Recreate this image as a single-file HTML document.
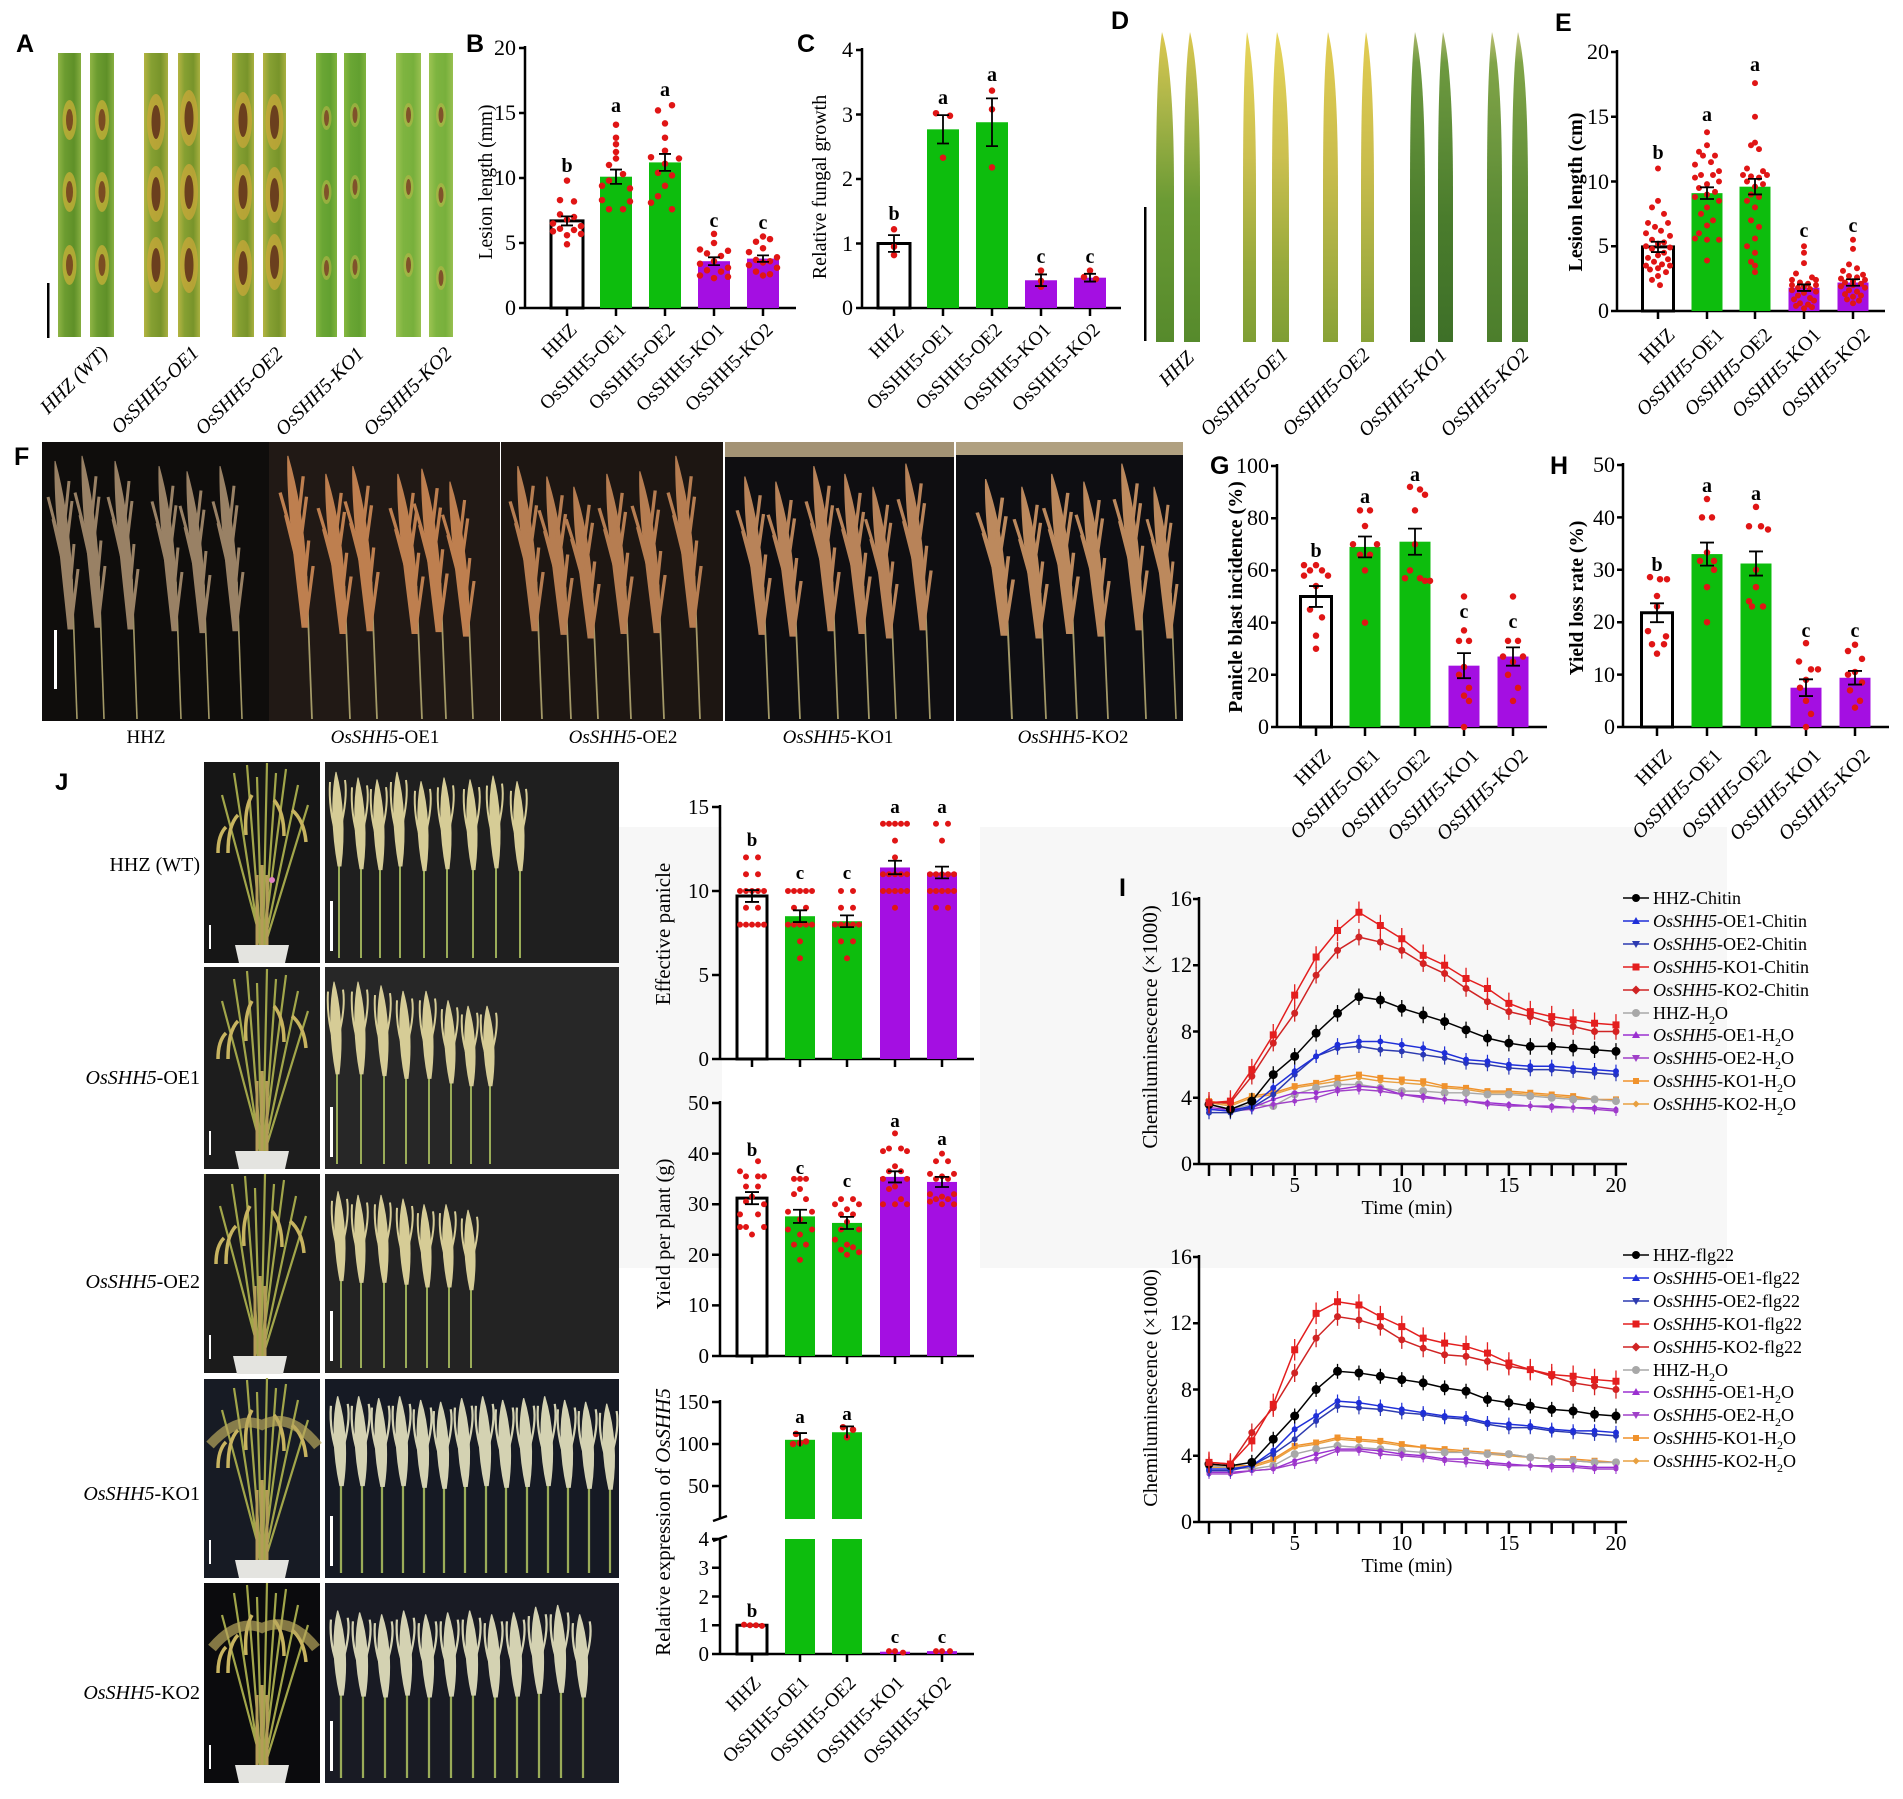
<!DOCTYPE html>
<html><head><meta charset="utf-8"><style>
html,body{margin:0;padding:0;background:#fff;}
svg{display:block;}
text{font-family:"Liberation Serif","DejaVu Serif",serif;fill:#000;}
.pl{font-family:"Liberation Sans",Arial,sans-serif;font-weight:bold;font-size:25px;}
.tk{font-size:22px;text-anchor:end;}
.xl{font-size:19.5px;text-anchor:end;}
.xa{font-size:20px;text-anchor:end;font-style:italic;}
.lt{font-size:20px;font-weight:bold;text-anchor:middle;}
.yt{font-size:19.5px;text-anchor:middle;}
.ytb{font-size:20px;font-weight:bold;text-anchor:middle;}
.it{font-style:italic;}
.sc *{vector-effect:non-scaling-stroke;}
.ax{fill:none;stroke:#000;stroke-width:2.5;}
.dt{fill:none;stroke:#e01515;stroke-width:6.5;stroke-linecap:round;}
.eb{fill:none;stroke:#000;stroke-width:1.8;}
.g{fill:#0dbd0d;}
.p{fill:#a40fe2;}
.w{fill:#fff;stroke:#000;stroke-width:3;}
.lg{font-size:18px;}
.fl{font-size:19px;text-anchor:middle;}
.jl{font-size:20px;text-anchor:end;}
</style></head><body>
<svg width="1903" height="1799" viewBox="0 0 1903 1799" xmlns="http://www.w3.org/2000/svg">
<defs>
<linearGradient id="gA1" x1="0" x2="1" y1="0" y2="0"><stop offset="0" stop-color="#8fb445"/><stop offset=".3" stop-color="#6c9c30"/><stop offset=".7" stop-color="#5f9028"/><stop offset="1" stop-color="#86ae40"/></linearGradient>
<linearGradient id="gA2" x1="0" x2="1" y1="0" y2="0"><stop offset="0" stop-color="#b4b442"/><stop offset=".3" stop-color="#86a032"/><stop offset=".7" stop-color="#78942a"/><stop offset="1" stop-color="#a8b040"/></linearGradient>
<linearGradient id="gA3" x1="0" x2="1" y1="0" y2="0"><stop offset="0" stop-color="#86b840"/><stop offset=".3" stop-color="#6aa634"/><stop offset=".7" stop-color="#62a030"/><stop offset="1" stop-color="#80b43e"/></linearGradient>
<linearGradient id="gA4" x1="0" x2="1" y1="0" y2="0"><stop offset="0" stop-color="#9cc452"/><stop offset=".3" stop-color="#7eb440"/><stop offset=".7" stop-color="#78b03c"/><stop offset="1" stop-color="#98c050"/></linearGradient>
<linearGradient id="gD1" x1="0" x2="0" y1="0" y2="1"><stop offset="0" stop-color="#dcc850"/><stop offset=".25" stop-color="#a8b448"/><stop offset=".55" stop-color="#6a9a34"/><stop offset="1" stop-color="#568a2c"/></linearGradient>
<linearGradient id="gD2" x1="0" x2="0" y1="0" y2="1"><stop offset="0" stop-color="#e6d458"/><stop offset=".4" stop-color="#ccc050"/><stop offset=".75" stop-color="#98aa3c"/><stop offset="1" stop-color="#7e9e34"/></linearGradient>
<linearGradient id="gD3" x1="0" x2="0" y1="0" y2="1"><stop offset="0" stop-color="#e2cc52"/><stop offset=".45" stop-color="#c8bc4c"/><stop offset=".8" stop-color="#a0ac40"/><stop offset="1" stop-color="#88a236"/></linearGradient>
<linearGradient id="gD4" x1="0" x2="0" y1="0" y2="1"><stop offset="0" stop-color="#b0b870"/><stop offset=".1" stop-color="#6e9a40"/><stop offset=".6" stop-color="#4a7c2c"/><stop offset="1" stop-color="#3e7028"/></linearGradient>
<linearGradient id="gD5" x1="0" x2="0" y1="0" y2="1"><stop offset="0" stop-color="#c0c078"/><stop offset=".1" stop-color="#80a448"/><stop offset=".6" stop-color="#5a8a34"/><stop offset="1" stop-color="#4c7e2c"/></linearGradient>
<g id="lesH"><ellipse rx="7" ry="20" fill="#c8b038" opacity=".75"/><ellipse rx="3.5" ry="11" fill="#7a4c22"/></g>
<g id="lesO"><ellipse rx="9" ry="28" fill="#caa83a" opacity=".75"/><ellipse rx="4.5" ry="17" fill="#6b3f1e"/></g>
<g id="lesK"><ellipse rx="5" ry="12" fill="#b8b848" opacity=".6"/><ellipse rx="2.5" ry="8" fill="#80522a"/></g>
<g id="pF">
<path d="M0 0L-5 -140" fill="none" stroke="#b8ad74" stroke-width="1.6"/>
<path d="M-4 -90C-3 -150 -9 -210 -22 -258C-23 -210 -15 -150 -9 -90Z"/>
<path d="M-6 -105L-16 -170M-7 -125L-24 -200M-9 -145L-29 -222M-11 -168L-5 -218M-13 -190L-8 -238M-5 -100L1 -150M-8 -120L-3 -175" fill="none" stroke-width="3"/>
</g>
<g id="jp">
<path d="M0 0V-112" fill="none" stroke="#9aac58" stroke-width="2"/>
<path d="M-1 -92C-7 -125 -8 -160 -3 -186C4 -160 6 -125 2 -92Z"/>
<path d="M-2 -120C-8 -140 -10 -160 -9 -176M1 -128C6 -148 8 -165 6 -178" fill="none" stroke-width="2"/>
</g>
<g id="plant">
<path d="M0 0L-40 -150M-2 0L-28 -172M-1 0L-15 -180M0 0L-5 -168M1 0L5 -182M2 0L14 -172M1 0L24 -176M2 0L36 -160M3 0L46 -140" fill="none" stroke="#a2a64a" stroke-width="2.2"/>
<path d="M-5 0V-70M0 0V-80M5 0V-70" fill="none" stroke="#b49c58" stroke-width="3"/>
<path d="M-24 -130q-10 10 -10 38M-10 -150q-8 14 -6 40M12 -145q10 12 10 36M30 -135q12 10 14 32M-36 -118q-8 8 -8 26" fill="none" stroke="#c8b460" stroke-width="3.5"/>
<path d="M-27 0H27L23 18H-23Z" fill="#e4e4e0"/>
</g>
</defs>

<!-- light gray background area -->
<rect x="600" y="827" width="1127" height="441" fill="#f7f7f7"/>
<rect x="722" y="827" width="258" height="441" fill="#fff"/>

<!-- ================= A ================= -->
<text class="pl" x="16" y="52">A</text>
<rect x="58" y="53" width="23" height="284" fill="url(#gA1)"/>
<rect x="90" y="53" width="24" height="284" fill="url(#gA1)"/>
<rect x="144" y="53" width="24" height="284" fill="url(#gA2)"/>
<rect x="178" y="53" width="22" height="284" fill="url(#gA2)"/>
<rect x="232" y="53" width="22" height="284" fill="url(#gA2)"/>
<rect x="263" y="53" width="23" height="284" fill="url(#gA2)"/>
<rect x="316" y="53" width="21" height="284" fill="url(#gA3)"/>
<rect x="344" y="53" width="22" height="284" fill="url(#gA3)"/>
<rect x="396" y="53" width="25" height="284" fill="url(#gA4)"/>
<rect x="429" y="53" width="24" height="284" fill="url(#gA4)"/>
<use href="#lesH" x="69.5" y="120"/><use href="#lesH" x="69.5" y="192"/><use href="#lesH" x="69.5" y="265"/>
<use href="#lesH" x="102" y="120"/><use href="#lesH" x="102" y="192"/><use href="#lesH" x="102" y="265"/>
<use href="#lesO" x="156" y="122"/><use href="#lesO" x="156" y="194"/><use href="#lesO" x="156" y="265"/>
<use href="#lesO" x="189" y="118"/><use href="#lesO" x="189" y="192"/><use href="#lesO" x="189" y="265"/>
<use href="#lesO" x="243" y="120"/><use href="#lesO" x="243" y="192"/><use href="#lesO" x="243" y="268"/>
<use href="#lesO" x="274.5" y="122"/><use href="#lesO" x="274.5" y="195"/><use href="#lesO" x="274.5" y="262"/>
<use href="#lesK" x="326.5" y="118"/><use href="#lesK" x="326.5" y="192"/><use href="#lesK" x="326.5" y="268"/>
<use href="#lesK" x="355" y="115"/><use href="#lesK" x="355" y="187"/><use href="#lesK" x="355" y="267"/>
<use href="#lesK" x="408.5" y="115"/><use href="#lesK" x="408.5" y="187"/><use href="#lesK" x="408.5" y="265"/>
<use href="#lesK" x="441" y="115"/><use href="#lesK" x="441" y="195"/><use href="#lesK" x="441" y="278"/>
<rect x="47" y="283" width="2.5" height="55" fill="#000"/>
<text class="xa" transform="translate(109,354) rotate(-45)">HHZ (WT)</text>
<text class="xa" transform="translate(200,354) rotate(-45)">OsSHH5-OE1</text>
<text class="xa" transform="translate(284,355) rotate(-45)">OsSHH5-OE2</text>
<text class="xa" transform="translate(365,355) rotate(-45)">OsSHH5-KO1</text>
<text class="xa" transform="translate(453,355) rotate(-45)">OsSHH5-KO2</text>

<!-- ================= B ================= -->
<text class="pl" x="466" y="52">B</text>
<path class="ax" d="M525 46V308H796M519 308H525M519 243H525M519 178H525M519 113H525M519 48H525M567 308v8M616 308v8M665 308v8M714 308v8M763 308v8"/>
<text class="tk" x="516" y="315">0</text><text class="tk" x="516" y="250">5</text><text class="tk" x="516" y="185">10</text><text class="tk" x="516" y="120">15</text><text class="tk" x="516" y="55">20</text>
<text class="yt" transform="translate(492,182) rotate(-90)">Lesion length (mm)</text>
<g class="sc" transform="translate(0,308) scale(1,-13)">
<rect class="w" x="551" y="0" width="32" height="6.7"/>
<rect class="g" x="600" y="0" width="32" height="10.1"/>
<rect class="g" x="649" y="0" width="32" height="11.2"/>
<rect class="p" x="698" y="0" width="32" height="3.6"/>
<rect class="p" x="747" y="0" width="32" height="3.8"/>
<path class="dt" d="M567 9.8h0M560 8.3h0M574 8.2h0M560 7.2h0M574 7h0M567 6.8h0M553 6.5h0M581 6.3h0M560 6.1h0M574 6h0M553 5.9h0M581 5.7h0M567 5.6h0M567 4.9h0M616 14.1h0M616 13.1h0M616 12.6h0M616 12h0M616 11.5h0M609 11h0M623 10.3h0M609 9.8h0M602 9.4h0M630 9.2h0M602 8.3h0M630 8.2h0M609 7.6h0M623 7.6h0M672 15.6h0M658 15.2h0M665 14.2h0M665 13.1h0M665 12.1h0M651 11.6h0M679 11.5h0M665 11.1h0M658 10.4h0M672 10.2h0M665 9.4h0M658 8.6h0M651 8.1h0M672 7.6h0M714 5.7h0M714 5h0M700 4.5h0M728 4.4h0M707 4.2h0M721 4h0M714 3.6h0M700 3.4h0M728 3.1h0M707 2.9h0M721 2.8h0M700 2.5h0M728 2.4h0M714 2.3h0M763 5.5h0M770 5.3h0M756 5.1h0M763 4.6h0M749 4.3h0M777 3.9h0M756 3.7h0M770 3.6h0M763 3.5h0M749 3.3h0M777 3.1h0M756 2.8h0M770 2.6h0M763 2.5h0"/>
<path class="eb" d="M567 6.35V7.05M561 7.05H573M561 6.35H573M616 9.55V10.65M610 10.65H622M610 9.55H622M665 10.55V11.85M659 11.85H671M659 10.55H671M714 3.3V3.9M708 3.9H720M708 3.3H720M763 3.55V4.05M757 4.05H769M757 3.55H769"/>
</g>
<text class="lt" x="567" y="172">b</text><text class="lt" x="616" y="112">a</text><text class="lt" x="665" y="96">a</text><text class="lt" x="714" y="227">c</text><text class="lt" x="763" y="229">c</text>
<text class="xl" transform="translate(578,331) rotate(-45)">HHZ</text>
<text class="xl" transform="translate(627,331) rotate(-45)">OsSHH5-OE1</text>
<text class="xl" transform="translate(676,331) rotate(-45)">OsSHH5-OE2</text>
<text class="xl" transform="translate(725,331) rotate(-45)">OsSHH5-KO1</text>
<text class="xl" transform="translate(774,331) rotate(-45)">OsSHH5-KO2</text>

<!-- ================= C ================= -->
<text class="pl" x="797" y="52">C</text>
<path class="ax" d="M862 48V308H1121M856 308H862M856 243.5H862M856 179H862M856 114.5H862M856 50H862M894 308v8M943 308v8M992 308v8M1041 308v8M1090 308v8"/>
<text class="tk" x="853" y="315">0</text><text class="tk" x="853" y="251">1</text><text class="tk" x="853" y="186">2</text><text class="tk" x="853" y="122">3</text><text class="tk" x="853" y="57">4</text>
<text class="yt" style="font-size:20px" transform="translate(826,187) rotate(-90)">Relative fungal growth</text>
<g class="sc" transform="translate(0,308) scale(1,-64.5)">
<rect class="w" x="878" y="0" width="32" height="1"/>
<rect class="g" x="927" y="0" width="32" height="2.77"/>
<rect class="g" x="976" y="0" width="32" height="2.88"/>
<rect class="p" x="1025" y="0" width="32" height="0.43"/>
<rect class="p" x="1074" y="0" width="32" height="0.47"/>
<path class="dt" d="M894 1.22h0M894 0.95h0M894 0.82h0M936 3.02h0M950 2.98h0M943 2.33h0M992 3.37h0M992 3.08h0M992 2.18h0M1041 0.58h0M1041 0.42h0M1041 0.33h0M1090 0.58h0M1084 0.48h0M1096 0.45h0"/>
<path class="eb" d="M894 0.87V1.13M888 1.13H900M888 0.87H900M943 2.55V2.99M937 2.99H949M937 2.55H949M992 2.51V3.25M986 3.25H998M986 2.51H998M1041 0.34V0.52M1035 0.52H1047M1035 0.34H1047M1090 0.41V0.53M1084 0.53H1096M1084 0.41H1096"/>
</g>
<text class="lt" x="894" y="220">b</text><text class="lt" x="943" y="104">a</text><text class="lt" x="992" y="81">a</text><text class="lt" x="1041" y="263">c</text><text class="lt" x="1090" y="263">c</text>
<text class="xl" transform="translate(905,331) rotate(-45)">HHZ</text>
<text class="xl" transform="translate(954,331) rotate(-45)">OsSHH5-OE1</text>
<text class="xl" transform="translate(1003,331) rotate(-45)">OsSHH5-OE2</text>
<text class="xl" transform="translate(1052,331) rotate(-45)">OsSHH5-KO1</text>
<text class="xl" transform="translate(1101,331) rotate(-45)">OsSHH5-KO2</text>

<!-- ================= D ================= -->
<text class="pl" x="1111" y="29">D</text>
<path d="M1156 342L1156 190Q1156 70 1162 32Q1174 70 1174 190L1174 342Z" fill="url(#gD1)"/>
<path d="M1184 342L1184 190Q1184 70 1190 32Q1200 70 1200 190L1200 342Z" fill="url(#gD1)"/>
<path d="M1243 342L1243 190Q1243 70 1247 32Q1256 70 1256 190L1256 342Z" fill="url(#gD2)"/>
<path d="M1272 342L1272 190Q1272 70 1277 32Q1289 70 1289 190L1289 342Z" fill="url(#gD2)"/>
<path d="M1323 342L1323 190Q1323 70 1328 32Q1338 70 1338 190L1338 342Z" fill="url(#gD3)"/>
<path d="M1361 342L1361 190Q1361 70 1366 32Q1374 70 1374 190L1374 342Z" fill="url(#gD3)"/>
<path d="M1410 342L1410 190Q1410 70 1415 32Q1425 70 1425 190L1425 342Z" fill="url(#gD4)"/>
<path d="M1438 342L1438 190Q1438 70 1443 32Q1453 70 1453 190L1453 342Z" fill="url(#gD4)"/>
<path d="M1487 342L1487 190Q1487 70 1492 32Q1502 70 1502 190L1502 342Z" fill="url(#gD5)"/>
<path d="M1512 342L1512 190Q1512 70 1518 32Q1528 70 1528 190L1528 342Z" fill="url(#gD5)"/>
<rect x="1144" y="207" width="2.5" height="134" fill="#000"/>
<text class="xa" transform="translate(1195,359) rotate(-45)">HHZ</text>
<text class="xa" transform="translate(1289,356) rotate(-45)">OsSHH5-OE1</text>
<text class="xa" transform="translate(1371,356) rotate(-45)">OsSHH5-OE2</text>
<text class="xa" transform="translate(1448,356) rotate(-45)">OsSHH5-KO1</text>
<text class="xa" transform="translate(1530,356) rotate(-45)">OsSHH5-KO2</text>

<!-- ================= E ================= -->
<text class="pl" x="1555" y="31">E</text>
<path class="ax" d="M1617 50V311H1885M1611 311H1617M1611 246.25H1617M1611 181.5H1617M1611 116.75H1617M1611 52H1617M1658 311v8M1707 311v8M1755 311v8M1804 311v8M1853 311v8"/>
<text class="tk" x="1609" y="318">0</text><text class="tk" x="1609" y="253">5</text><text class="tk" x="1609" y="189">10</text><text class="tk" x="1609" y="124">15</text><text class="tk" x="1609" y="59">20</text>
<text class="ytb" transform="translate(1582,192) rotate(-90)">Lesion length (cm)</text>
<g class="sc" transform="translate(0,311) scale(1,-12.95)">
<rect class="w" x="1642.5" y="0" width="31" height="4.95"/>
<rect class="g" x="1691.5" y="0" width="31" height="9.1"/>
<rect class="g" x="1739.5" y="0" width="31" height="9.6"/>
<rect class="p" x="1788.5" y="0" width="31" height="1.8"/>
<rect class="p" x="1837.5" y="0" width="31" height="2.2"/>
<path class="dt" style="stroke-width:6" d="M1658 11h0M1658 8.5h0M1652 8h0M1664 7.5h0M1648 6.8h0M1668 6.8h0M1655 6.5h0M1661 6.2h0M1646 6h0M1670 5.8h0M1652 5.5h0M1664 5.3h0M1658 5.2h0M1646 5h0M1670 4.9h0M1652 4.8h0M1664 4.5h0M1658 4.3h0M1648 4.1h0M1668 4h0M1654 3.8h0M1662 3.6h0M1646 3.5h0M1670 3.5h0M1658 3.3h0M1650 3.2h0M1666 3h0M1658 2.7h0M1652 2.4h0M1660 2h0M1707 13.8h0M1707 12.8h0M1699 12.3h0M1715 12h0M1703 12h0M1711 11.5h0M1695 11.3h0M1719 10.8h0M1701 10.5h0M1713 10.5h0M1695 10.3h0M1719 10h0M1707 9.8h0M1699 9.5h0M1715 9.2h0M1707 9h0M1695 8.8h0M1719 8.5h0M1707 8h0M1701 7.5h0M1713 7h0M1707 6.6h0M1699 6h0M1695 5.6h0M1719 5.5h0M1707 5.5h0M1707 3.9h0M1755 17.6h0M1755 15h0M1755 13h0M1751 12.8h0M1759 12.5h0M1747 11h0M1763 10.8h0M1743 10.5h0M1767 10.5h0M1751 10.4h0M1759 10.3h0M1747 10h0M1763 9.8h0M1755 9.6h0M1751 9h0M1759 8.8h0M1747 8.5h0M1755 8h0M1751 7h0M1759 6.5h0M1755 5.6h0M1747 5h0M1755 4.5h0M1751 3.8h0M1755 3.5h0M1755 3h0M1804 5h0M1804 4.5h0M1804 3.7h0M1796 2.9h0M1812 2.6h0M1792 2.4h0M1816 2.4h0M1800 2.2h0M1808 2.1h0M1792 2h0M1816 2h0M1804 1.9h0M1798 1.8h0M1810 1.7h0M1792 1.6h0M1816 1.5h0M1804 1.4h0M1798 1.2h0M1810 1h0M1794 0.9h0M1814 0.8h0M1800 0.6h0M1808 0.5h0M1796 0.4h0M1812 0.3h0M1804 0.2h0M1853 5.5h0M1853 4.8h0M1849 3.6h0M1857 3.3h0M1843 3.1h0M1863 2.8h0M1849 2.7h0M1857 2.6h0M1841 2.5h0M1865 2.4h0M1853 2.3h0M1845 2.2h0M1861 2.1h0M1853 2h0M1841 1.9h0M1865 1.8h0M1849 1.6h0M1857 1.5h0M1845 1.3h0M1861 1.2h0M1853 1.1h0M1847 0.9h0M1859 0.8h0M1853 0.6h0"/>
<path class="eb" d="M1658 4.55V5.35M1651 5.35H1665M1651 4.55H1665M1707 8.65V9.55M1700 9.55H1714M1700 8.65H1714M1755 9V10.2M1748 10.2H1762M1748 9H1762M1804 1.55V2.05M1797 2.05H1811M1797 1.55H1811M1853 1.95V2.45M1846 2.45H1860M1846 1.95H1860"/>
</g>
<text class="lt" x="1658" y="159">b</text><text class="lt" x="1707" y="121">a</text><text class="lt" x="1755" y="71">a</text><text class="lt" x="1804" y="237">c</text><text class="lt" x="1853" y="232">c</text>
<text class="xl" style="font-size:20px" transform="translate(1676,336) rotate(-45)">HHZ</text>
<text class="xl" style="font-size:20px" transform="translate(1725,336) rotate(-45)"><tspan class="it">OsSHH5</tspan>-OE1</text>
<text class="xl" style="font-size:20px" transform="translate(1773,336) rotate(-45)"><tspan class="it">OsSHH5</tspan>-OE2</text>
<text class="xl" style="font-size:20px" transform="translate(1822,336) rotate(-45)"><tspan class="it">OsSHH5</tspan>-KO1</text>
<text class="xl" style="font-size:20px" transform="translate(1871,336) rotate(-45)"><tspan class="it">OsSHH5</tspan>-KO2</text>

<!-- ================= F ================= -->
<text class="pl" x="14" y="465">F</text>
<rect x="42" y="442" width="227" height="279" fill="#0f0d0c"/>
<rect x="269" y="442" width="231" height="279" fill="#211915"/>
<rect x="501" y="442" width="222" height="279" fill="#1d1612"/>
<rect x="725" y="442" width="229" height="279" fill="#0f0e11"/>
<rect x="956" y="442" width="227" height="279" fill="#0e0e12"/>
<rect x="725" y="442" width="229" height="15" fill="#a39274"/>
<rect x="956" y="442" width="227" height="13" fill="#b0a080"/>
<g opacity=".88">
<use href="#pF" fill="#ad9272" stroke="#ad9272" transform="translate(77,719)"/>
<use href="#pF" fill="#ad9272" stroke="#ad9272" transform="translate(104,719) scale(1,1.02)"/>
<use href="#pF" fill="#ad9272" stroke="#ad9272" transform="translate(137,719)"/>
<use href="#pF" fill="#ad9272" stroke="#ad9272" transform="translate(181,719) scale(1,0.98)"/>
<use href="#pF" fill="#ad9272" stroke="#ad9272" transform="translate(209,719) scale(1,0.96)"/>
<use href="#pF" fill="#ad9272" stroke="#ad9272" transform="translate(242,719) scale(1,0.98)"/>
<use href="#pF" fill="#d48e58" stroke="#d48e58" transform="translate(312,719) scale(1.1,1.02)"/>
<use href="#pF" fill="#d48e58" stroke="#d48e58" transform="translate(350,719) scale(1.1,0.95)"/>
<use href="#pF" fill="#d48e58" stroke="#d48e58" transform="translate(377,719) scale(1.1,0.98)"/>
<use href="#pF" fill="#d48e58" stroke="#d48e58" transform="translate(422,719) scale(1.1,0.95)"/>
<use href="#pF" fill="#d48e58" stroke="#d48e58" transform="translate(446,719) scale(1.1,0.97)"/>
<use href="#pF" fill="#d48e58" stroke="#d48e58" transform="translate(473,719) scale(1.05,0.92)"/>
<use href="#pF" fill="#cc8c5a" stroke="#cc8c5a" transform="translate(542,719) scale(1.1,0.98)"/>
<use href="#pF" fill="#cc8c5a" stroke="#cc8c5a" transform="translate(571,719) scale(1.1,0.94)"/>
<use href="#pF" fill="#cc8c5a" stroke="#cc8c5a" transform="translate(598,719) scale(1.1,0.9)"/>
<use href="#pF" fill="#cc8c5a" stroke="#cc8c5a" transform="translate(631,719) scale(1.1,0.95)"/>
<use href="#pF" fill="#cc8c5a" stroke="#cc8c5a" transform="translate(664,719) scale(1.1,0.96)"/>
<use href="#pF" fill="#cc8c5a" stroke="#cc8c5a" transform="translate(700,719) scale(1.1,1.02)"/>
<use href="#pF" fill="#d09464" stroke="#d09464" transform="translate(769,719) scale(1.1,0.94)"/>
<use href="#pF" fill="#d09464" stroke="#d09464" transform="translate(800,719) scale(1.1,0.92)"/>
<use href="#pF" fill="#d09464" stroke="#d09464" transform="translate(838,719) scale(1.1,0.98)"/>
<use href="#pF" fill="#d09464" stroke="#d09464" transform="translate(869,719) scale(1.1,0.95)"/>
<use href="#pF" fill="#d09464" stroke="#d09464" transform="translate(896,719) scale(1.05,0.9)"/>
<use href="#pF" fill="#d09464" stroke="#d09464" transform="translate(930,719) scale(1.1,0.99)"/>
<use href="#pF" fill="#d49a68" stroke="#d49a68" transform="translate(1012,719) scale(1.2,0.93)"/>
<use href="#pF" fill="#d49a68" stroke="#d49a68" transform="translate(1046,719) scale(1.1,0.9)"/>
<use href="#pF" fill="#d49a68" stroke="#d49a68" transform="translate(1077,719) scale(1.15,0.95)"/>
<use href="#pF" fill="#d49a68" stroke="#d49a68" transform="translate(1108,719) scale(1.1,0.92)"/>
<use href="#pF" fill="#d49a68" stroke="#d49a68" transform="translate(1146,719) scale(1.1,0.99)"/>
<use href="#pF" fill="#d49a68" stroke="#d49a68" transform="translate(1176,719) scale(1,0.9)"/>
</g>
<rect x="54" y="630" width="3" height="59" fill="#fff"/>
<text class="fl" x="146" y="743">HHZ</text>
<text class="fl" x="385" y="743"><tspan class="it">OsSHH5</tspan>-OE1</text>
<text class="fl" x="623" y="743"><tspan class="it">OsSHH5</tspan>-OE2</text>
<text class="fl" x="838" y="743"><tspan class="it">OsSHH5</tspan>-KO1</text>
<text class="fl" x="1073" y="743"><tspan class="it">OsSHH5</tspan>-KO2</text>

<!-- ================= G ================= -->
<text class="pl" x="1210" y="474">G</text>
<path class="ax" d="M1277 464V727H1547M1271 727H1277M1271 674.8H1277M1271 622.6H1277M1271 570.4H1277M1271 518.2H1277M1271 466H1277M1316 727v9M1365 727v9M1415 727v9M1464 727v9M1513 727v9"/>
<text class="tk" x="1269" y="734">0</text><text class="tk" x="1269" y="682">20</text><text class="tk" x="1269" y="630">40</text><text class="tk" x="1269" y="577">60</text><text class="tk" x="1269" y="525">80</text><text class="tk" x="1269" y="473">100</text>
<text class="ytb" transform="translate(1242,597) rotate(-90)">Panicle blast incidence (%)</text>
<g class="sc" transform="translate(0,727) scale(1,-2.61)">
<rect class="w" x="1300.5" y="0" width="31" height="50"/>
<rect class="g" x="1349.5" y="0" width="31" height="69"/>
<rect class="g" x="1399.5" y="0" width="31" height="71"/>
<rect class="p" x="1448.5" y="0" width="31" height="23.5"/>
<rect class="p" x="1497.5" y="0" width="31" height="27"/>
<path class="dt" d="M1304 62h0M1316 62h0M1310 60h0M1322 60h0M1328 58h0M1304 58h0M1316 54h0M1310 45h0M1322 42h0M1316 35h0M1316 30h0M1360 83h0M1370 83h0M1365 77h0M1353 70h0M1377 70h0M1360 66h0M1370 66h0M1365 60h0M1365 40h0M1410 92h0M1420 91h0M1425 89h0M1415 83h0M1415 70h0M1410 60h0M1405 57h0M1420 57h0M1425 56h0M1430 56h0M1464 50h0M1464 37h0M1459 33h0M1469 33h0M1464 23h0M1459 20h0M1469 15h0M1464 12h0M1469 10h0M1464 0h0M1513 50h0M1508 33h0M1518 33h0M1503 27h0M1523 27h0M1513 25h0M1508 20h0M1518 15h0M1513 10h0"/>
<path class="eb" d="M1316 46V54M1309 54H1323M1309 46H1323M1365 65V73M1358 73H1372M1358 65H1372M1415 66V76M1408 76H1422M1408 66H1422M1464 18.7V28.3M1457 28.3H1471M1457 18.7H1471M1513 23.5V30.5M1506 30.5H1520M1506 23.5H1520"/>
</g>
<text class="lt" x="1316" y="557">b</text><text class="lt" x="1365" y="503">a</text><text class="lt" x="1415" y="481">a</text><text class="lt" x="1464" y="618">c</text><text class="lt" x="1513" y="628">c</text>
<text class="xl" style="font-size:20.5px" transform="translate(1332,757) rotate(-45)">HHZ</text>
<text class="xl" style="font-size:20.5px" transform="translate(1381,757) rotate(-45)"><tspan class="it">OsSHH5</tspan>-OE1</text>
<text class="xl" style="font-size:20.5px" transform="translate(1431,757) rotate(-45)"><tspan class="it">OsSHH5</tspan>-OE2</text>
<text class="xl" style="font-size:20.5px" transform="translate(1480,757) rotate(-45)"><tspan class="it">OsSHH5</tspan>-KO1</text>
<text class="xl" style="font-size:20.5px" transform="translate(1529,757) rotate(-45)"><tspan class="it">OsSHH5</tspan>-KO2</text>

<!-- ================= H ================= -->
<text class="pl" x="1550" y="474">H</text>
<path class="ax" d="M1623 463V727H1889M1617 727H1623M1617 674.6H1623M1617 622.2H1623M1617 569.8H1623M1617 517.4H1623M1617 465H1623M1657 727v9M1707 727v9M1756 727v9M1806 727v9M1855 727v9"/>
<text class="tk" x="1615" y="734">0</text><text class="tk" x="1615" y="682">10</text><text class="tk" x="1615" y="629">20</text><text class="tk" x="1615" y="577">30</text><text class="tk" x="1615" y="525">40</text><text class="tk" x="1615" y="472">50</text>
<text class="ytb" style="font-size:19.5px" transform="translate(1583,598) rotate(-90)">Yield loss rate (%)</text>
<g class="sc" transform="translate(0,727) scale(1,-5.24)">
<rect class="w" x="1641.5" y="0" width="31" height="21.8"/>
<rect class="g" x="1691.5" y="0" width="31" height="33"/>
<rect class="g" x="1740.5" y="0" width="31" height="31.2"/>
<rect class="p" x="1790.5" y="0" width="31" height="7.5"/>
<rect class="p" x="1839.5" y="0" width="31" height="9.4"/>
<path class="dt" d="M1650 28.6h0M1660 28.2h0M1667 28.2h0M1657 25h0M1657 23h0M1648 18.3h0M1666 17.3h0M1652 15.8h0M1664 15.8h0M1657 14h0M1707 43.5h0M1702 40h0M1712 40h0M1707 33.3h0M1700 31.7h0M1714 31.7h0M1714 30h0M1707 26.7h0M1707 20h0M1756 42h0M1749 38.3h0M1761 38.3h0M1768 37.7h0M1756 30h0M1756 26.7h0M1749 24h0M1752 23h0M1763 23h0M1806 16h0M1799 12.5h0M1811 11h0M1818 11h0M1806 9h0M1800 7.5h0M1806 5h0M1811 2.5h0M1806 0h0M1855 15.7h0M1848 14.5h0M1862 13h0M1855 10.5h0M1848 10h0M1862 8.5h0M1850 7h0M1860 5h0M1855 3.7h0"/>
<path class="eb" d="M1657 20V23.6M1650 23.6H1664M1650 20H1664M1707 30.8V35.2M1700 35.2H1714M1700 30.8H1714M1756 28.9V33.5M1749 33.5H1763M1749 28.9H1763M1806 5.9V9.1M1799 9.1H1813M1799 5.9H1813M1855 8.1V10.7M1848 10.7H1862M1848 8.1H1862"/>
</g>
<text class="lt" x="1657" y="571">b</text><text class="lt" x="1707" y="492">a</text><text class="lt" x="1756" y="500">a</text><text class="lt" x="1806" y="637">c</text><text class="lt" x="1855" y="637">c</text>
<text class="xl" style="font-size:20.5px" transform="translate(1673,757) rotate(-45)">HHZ</text>
<text class="xl" style="font-size:20.5px" transform="translate(1723,757) rotate(-45)"><tspan class="it">OsSHH5</tspan>-OE1</text>
<text class="xl" style="font-size:20.5px" transform="translate(1772,757) rotate(-45)"><tspan class="it">OsSHH5</tspan>-OE2</text>
<text class="xl" style="font-size:20.5px" transform="translate(1822,757) rotate(-45)"><tspan class="it">OsSHH5</tspan>-KO1</text>
<text class="xl" style="font-size:20.5px" transform="translate(1871,757) rotate(-45)"><tspan class="it">OsSHH5</tspan>-KO2</text>

<!-- ================= J photos ================= -->
<text class="pl" x="55" y="790" style="font-size:24px">J</text>
<rect x="204" y="762" width="116" height="201" fill="#161616"/>
<rect x="204" y="967" width="116" height="202" fill="#1d1d1d"/>
<rect x="204" y="1174" width="116" height="199" fill="#1b1b1b"/>
<rect x="204" y="1379" width="116" height="199" fill="#171b24"/>
<rect x="204" y="1583" width="116" height="200" fill="#0b0b0d"/>
<rect x="325" y="762" width="294" height="201" fill="#1f1f1f"/>
<rect x="325" y="967" width="294" height="202" fill="#272727"/>
<rect x="325" y="1174" width="294" height="199" fill="#232323"/>
<rect x="325" y="1379" width="294" height="199" fill="#161a24"/>
<rect x="325" y="1583" width="294" height="200" fill="#191b24"/>
<use href="#plant" transform="translate(262,945)"/>
<circle cx="272" cy="880" r="3" fill="#e080c0"/>
<use href="#plant" transform="translate(262,1151)"/>
<use href="#plant" transform="translate(260,1356)"/>
<use href="#plant" transform="translate(262,1560)"/>
<path d="M210 1445Q237 1415 262 1425Q290 1411 318 1446" fill="none" stroke="#b8a65c" stroke-width="10" opacity=".7"/>
<use href="#plant" transform="translate(262,1765)"/>
<path d="M212 1648Q237 1618 262 1628Q290 1615 316 1648" fill="none" stroke="#b8a65c" stroke-width="10" opacity=".7"/>
<g fill="#d6cc96" stroke="#d6cc96">
<use href="#jp" transform="translate(339,958)"/><use href="#jp" transform="translate(361,958) scale(1,0.97)"/><use href="#jp" transform="translate(380,958) scale(1,0.96)"/><use href="#jp" transform="translate(400,958)"/><use href="#jp" transform="translate(424,958) scale(1,0.95)"/><use href="#jp" transform="translate(447,958) scale(1,0.97)"/><use href="#jp" transform="translate(473,958) scale(1,0.96)"/><use href="#jp" transform="translate(496,958) scale(1,0.98)"/><use href="#jp" transform="translate(520,958) scale(1,0.95)"/>
<use href="#jp" transform="translate(337,1164) scale(1,0.98)"/><use href="#jp" transform="translate(361,1164) scale(1,0.98)"/><use href="#jp" transform="translate(384,1164) scale(1,0.96)"/><use href="#jp" transform="translate(406,1164) scale(1,0.93)"/><use href="#jp" transform="translate(429,1164) scale(1,0.93)"/><use href="#jp" transform="translate(451,1164) scale(1,0.88)"/><use href="#jp" transform="translate(471,1164) scale(1,0.85)"/><use href="#jp" transform="translate(490,1164) scale(1,0.85)"/>
<use href="#jp" transform="translate(341,1368) scale(1,0.95)"/><use href="#jp" transform="translate(361,1368) scale(1,0.93)"/><use href="#jp" transform="translate(384,1368) scale(1,0.93)"/><use href="#jp" transform="translate(406,1368) scale(1,0.91)"/><use href="#jp" transform="translate(427,1368) scale(1,0.88)"/><use href="#jp" transform="translate(449,1368) scale(1,0.88)"/><use href="#jp" transform="translate(471,1368) scale(1,0.85)"/>
</g>
<g fill="#d4d2b2" stroke="#d4d2b2">
<use href="#jp" transform="translate(341,1573) scale(1.12,0.95)"/><use href="#jp" transform="translate(362,1573) scale(1.12,0.95)"/><use href="#jp" transform="translate(382,1573) scale(1.12,0.94)"/><use href="#jp" transform="translate(403,1573) scale(1.12,0.95)"/><use href="#jp" transform="translate(424,1573) scale(1.12,0.93)"/><use href="#jp" transform="translate(444,1573) scale(1.12,0.92)"/><use href="#jp" transform="translate(465,1573) scale(1.12,0.94)"/><use href="#jp" transform="translate(486,1573) scale(1.12,0.95)"/><use href="#jp" transform="translate(506,1573) scale(1.12,0.93)"/><use href="#jp" transform="translate(527,1573) scale(1.12,0.94)"/><use href="#jp" transform="translate(548,1573) scale(1.12,0.95)"/><use href="#jp" transform="translate(568,1573) scale(1.12,0.93)"/><use href="#jp" transform="translate(589,1573) scale(1.12,0.92)"/><use href="#jp" transform="translate(610,1573) scale(1.1,0.91)"/>
<use href="#jp" transform="translate(341,1778) scale(1.12,0.9)"/><use href="#jp" transform="translate(363,1778) scale(1.12,0.89)"/><use href="#jp" transform="translate(385,1778) scale(1.12,0.88)"/><use href="#jp" transform="translate(407,1778) scale(1.12,0.9)"/><use href="#jp" transform="translate(429,1778) scale(1.12,0.88)"/><use href="#jp" transform="translate(451,1778) scale(1.12,0.89)"/><use href="#jp" transform="translate(473,1778) scale(1.12,0.9)"/><use href="#jp" transform="translate(495,1778) scale(1.12,0.88)"/><use href="#jp" transform="translate(517,1778) scale(1.12,0.89)"/><use href="#jp" transform="translate(539,1778) scale(1.12,0.92)"/><use href="#jp" transform="translate(561,1778) scale(1.12,0.93)"/><use href="#jp" transform="translate(583,1778) scale(1.12,0.88)"/>
</g>
<g fill="#fff">
<rect x="209" y="925" width="2" height="24"/><rect x="330" y="901" width="3" height="50"/>
<rect x="209" y="1131" width="2" height="24"/><rect x="330" y="1107" width="3" height="50"/>
<rect x="209" y="1335" width="2" height="24"/><rect x="330" y="1311" width="3" height="50"/>
<rect x="209" y="1540" width="2" height="24"/><rect x="330" y="1516" width="3" height="50"/>
<rect x="209" y="1745" width="2" height="24"/><rect x="330" y="1721" width="3" height="50"/>
</g>
<text class="jl" x="200" y="871">HHZ (WT)</text>
<text class="jl" x="200" y="1084"><tspan class="it">OsSHH5</tspan>-OE1</text>
<text class="jl" x="200" y="1288"><tspan class="it">OsSHH5</tspan>-OE2</text>
<text class="jl" x="200" y="1500"><tspan class="it">OsSHH5</tspan>-KO1</text>
<text class="jl" x="200" y="1699"><tspan class="it">OsSHH5</tspan>-KO2</text>

<!-- ================= J charts ================= -->
<!-- J1 -->
<path class="ax" d="M720 805V1059H974M712 1059H720M712 975H720M712 891H720M712 807H720M752 1059v8M800 1059v8M847 1059v8M895 1059v8M942 1059v8"/>
<text class="tk" style="font-size:21px" x="709" y="1066">0</text><text class="tk" style="font-size:21px" x="709" y="982">5</text><text class="tk" style="font-size:21px" x="709" y="898">10</text><text class="tk" style="font-size:21px" x="709" y="814">15</text>
<text class="yt" style="font-size:21px" transform="translate(670,934) rotate(-90)">Effective panicle</text>
<g class="sc" transform="translate(0,1059) scale(1,-16.8)">
<rect class="w" x="737" y="0" width="30" height="9.7"/>
<rect class="g" x="785" y="0" width="30" height="8.5"/>
<rect class="g" x="832" y="0" width="30" height="8.2"/>
<rect class="p" x="880" y="0" width="30" height="11.4"/>
<rect class="p" x="927" y="0" width="30" height="11.1"/>
<path class="dt" style="stroke-width:6" d="M746 12h0M758 12h0M746 11h0M758 11h0M740 10h0M746 10h0M752 10h0M758 10h0M764 10h0M746 9h0M758 9h0M740 8h0M746 8h0M752 8h0M758 8h0M764 8h0M788 10h0M794 10h0M800 10h0M806 10h0M812 10h0M794 9h0M806 9h0M788 8h0M794 8h0M800 8h0M806 8h0M812 8h0M800 7h0M800 6h0M841 10h0M853 10h0M841 9h0M853 9h0M835 8h0M841 8h0M847 8h0M853 8h0M859 8h0M841 7h0M853 7h0M847 6h0M883 14h0M889 14h0M895 14h0M901 14h0M907 14h0M895 13h0M895 12h0M883 11h0M889 11h0M895 11h0M901 11h0M907 11h0M883 10h0M889 10h0M895 10h0M901 10h0M907 10h0M895 9h0M936 14h0M948 14h0M942 13h0M930 11h0M936 11h0M942 11h0M948 11h0M954 11h0M930 10h0M936 10h0M942 10h0M948 10h0M954 10h0M936 9h0M948 9h0"/>
<path class="eb" d="M752 9.35V10.05M745 10.05H759M745 9.35H759M800 8.15V8.85M793 8.85H807M793 8.15H807M847 7.85V8.55M840 8.55H854M840 7.85H854M895 11V11.8M888 11.8H902M888 11H902M942 10.75V11.45M935 11.45H949M935 10.75H949"/>
</g>
<text class="lt" style="font-size:19px" x="752" y="846">b</text><text class="lt" style="font-size:19px" x="800" y="879">c</text><text class="lt" style="font-size:19px" x="847" y="879">c</text><text class="lt" style="font-size:19px" x="895" y="813">a</text><text class="lt" style="font-size:19px" x="942" y="813">a</text>
<!-- J2 -->
<path class="ax" d="M720 1101V1356H974M712 1356H720M712 1305.4H720M712 1254.8H720M712 1204.2H720M712 1153.6H720M712 1103H720M752 1356v8M800 1356v8M847 1356v8M895 1356v8M942 1356v8"/>
<text class="tk" style="font-size:21px" x="709" y="1363">0</text><text class="tk" style="font-size:21px" x="709" y="1312">10</text><text class="tk" style="font-size:21px" x="709" y="1262">20</text><text class="tk" style="font-size:21px" x="709" y="1211">30</text><text class="tk" style="font-size:21px" x="709" y="1161">40</text><text class="tk" style="font-size:21px" x="709" y="1110">50</text>
<text class="yt" style="font-size:20.5px" transform="translate(670,1234) rotate(-90)">Yield per plant (g)</text>
<g class="sc" transform="translate(0,1356) scale(1,-5.06)">
<rect class="w" x="737" y="0" width="30" height="31.2"/>
<rect class="g" x="785" y="0" width="30" height="27.6"/>
<rect class="g" x="832" y="0" width="30" height="26.3"/>
<rect class="p" x="880" y="0" width="30" height="35.4"/>
<rect class="p" x="927" y="0" width="30" height="34.4"/>
<path class="dt" style="stroke-width:6" d="M758 38.5h0M740 36.5h0M746 35.5h0M758 35.5h0M764 35.5h0M746 33.5h0M758 33.5h0M752 31.5h0M746 30.5h0M764 30h0M740 28h0M758 28h0M746 25.5h0M764 25.5h0M740 25.5h0M752 24h0M800 35h0M794 35h0M806 35h0M800 33h0M794 32h0M806 31h0M788 28.5h0M812 28.5h0M800 27h0M788 25h0M812 25h0M800 24h0M794 22h0M806 22h0M800 19h0M841 31h0M853 31h0M835 30h0M859 30h0M847 29h0M841 28h0M853 28h0M847 26.5h0M841 25h0M859 25h0M835 23h0M847 22h0M853 21.5h0M841 21h0M859 20.5h0M847 20h0M895 44h0M889 41h0M901 41h0M883 40.5h0M907 40.5h0M895 37.5h0M889 36.5h0M901 36.5h0M883 35h0M907 35h0M895 33.5h0M889 33h0M901 31h0M883 30h0M895 30h0M907 30h0M942 40h0M936 38.5h0M948 38.5h0M930 36h0M954 36h0M942 35.5h0M936 35h0M948 35h0M930 32h0M954 32h0M942 31.5h0M936 31h0M948 31h0M930 30.5h0M954 30h0M942 30h0"/>
<path class="eb" d="M752 30V32.4M745 32.4H759M745 30H759M800 26.3V28.9M793 28.9H807M793 26.3H807M847 25.1V27.5M840 27.5H854M840 25.1H854M895 34.3V36.5M888 36.5H902M888 34.3H902M942 33.4V35.4M935 35.4H949M935 33.4H949"/>
</g>
<text class="lt" style="font-size:19px" x="752" y="1156">b</text><text class="lt" style="font-size:19px" x="800" y="1174">c</text><text class="lt" style="font-size:19px" x="847" y="1187">c</text><text class="lt" style="font-size:19px" x="895" y="1127">a</text><text class="lt" style="font-size:19px" x="942" y="1145">a</text>
<!-- J3 -->
<path class="ax" d="M720 1400V1519M712 1402H720M712 1444H720M712 1486H720M713 1521L727 1516M720 1538V1654H974M713 1541L727 1536M712 1539H720M712 1567.75H720M712 1596.5H720M712 1625.25H720M712 1654H720M752 1654v8M800 1654v8M847 1654v8M895 1654v8M942 1654v8"/>
<text class="tk" style="font-size:21px" x="709" y="1409">150</text><text class="tk" style="font-size:21px" x="709" y="1451">100</text><text class="tk" style="font-size:21px" x="709" y="1493">50</text>
<text class="tk" style="font-size:21px" x="709" y="1546">4</text><text class="tk" style="font-size:21px" x="709" y="1575">3</text><text class="tk" style="font-size:21px" x="709" y="1604">2</text><text class="tk" style="font-size:21px" x="709" y="1632">1</text><text class="tk" style="font-size:21px" x="709" y="1661">0</text>
<text class="yt" style="font-size:21px" transform="translate(670,1522) rotate(-90)">Relative expression of <tspan class="it">OsSHH5</tspan></text>
<g class="sc" transform="translate(0,1654) scale(1,-28.75)">
<rect class="w" x="737" y="0" width="30" height="1"/>
<rect class="g" x="785" y="0" width="30" height="4"/>
<rect class="g" x="832" y="0" width="30" height="4"/>
<rect class="p" x="880" y="0" width="30" height="0.08"/>
<rect class="p" x="927" y="0" width="30" height="0.1"/>
<path class="dt" style="stroke-width:6" d="M744 1.02h0M750 1h0M756 1h0M762 0.98h0M889 0.1h0M895 0.1h0M903 0.05h0M936 0.1h0M942 0.1h0M950 0.1h0"/>
</g>
<g class="sc" transform="translate(0,1528) scale(1,-0.84)">
<rect class="g" x="785" y="10.7" width="30" height="94.3"/>
<rect class="g" x="832" y="10.7" width="30" height="103.3"/>
<path class="dt" style="stroke-width:6.5" d="M796 112h0M806 103h0M800 101h0M793 100h0M843 120h0M853 117h0M847 108h0"/>
<path class="eb" d="M800 97V113M793 113H807M847 107V121M840 121H854"/>
</g>
<text class="lt" style="font-size:19px" x="800" y="1423">a</text><text class="lt" style="font-size:19px" x="847" y="1420">a</text><text class="lt" style="font-size:19px" x="752" y="1617">b</text><text class="lt" style="font-size:19px" x="895" y="1643">c</text><text class="lt" style="font-size:19px" x="942" y="1643">c</text>
<text class="xl" transform="translate(762,1684) rotate(-45)">HHZ</text>
<text class="xl" transform="translate(810,1684) rotate(-45)">OsSHH5-OE1</text>
<text class="xl" transform="translate(857,1684) rotate(-45)">OsSHH5-OE2</text>
<text class="xl" transform="translate(905,1684) rotate(-45)">OsSHH5-KO1</text>
<text class="xl" transform="translate(952,1684) rotate(-45)">OsSHH5-KO2</text>

<!-- ================= I chart 1 ================= -->
<text class="pl" x="1119" y="896">I</text>
<path class="ax" d="M1199 897V1164H1627M1193 1164H1199M1193 1097.75H1199M1193 1031.5H1199M1193 965.25H1199M1193 899H1199M1209 1164v12M1230.4 1164v12M1251.8 1164v12M1273.3 1164v12M1294.7 1164v12M1316.1 1164v12M1337.5 1164v12M1358.9 1164v12M1380.4 1164v12M1401.8 1164v12M1423.2 1164v12M1444.6 1164v12M1466 1164v12M1487.5 1164v12M1508.9 1164v12M1530.3 1164v12M1551.7 1164v12M1573.1 1164v12M1594.6 1164v12M1616 1164v12"/>
<text class="tk" x="1192" y="1171">0</text><text class="tk" x="1192" y="1105">4</text><text class="tk" x="1192" y="1039">8</text><text class="tk" x="1192" y="972">12</text><text class="tk" x="1192" y="906">16</text>
<g style="font-size:21px;text-anchor:middle"><text x="1294.7" y="1192">5</text><text x="1401.8" y="1192">10</text><text x="1508.9" y="1192">15</text><text x="1616" y="1192">20</text></g>
<text class="yt" style="font-size:20px" x="1407" y="1214">Time (min)</text>
<text class="yt" style="font-size:21px" transform="translate(1157,1027) rotate(-90)">Chemiluminescence (×1000)</text>
<g class="sc" transform="translate(1187.58,1164) scale(21.42,-16.5625)">
<polyline fill="none" stroke="#e8a040" stroke-width="1.4" points="1,3.7 2,3.5 3,4 4,4.2 5,4.6 6,4.8 7,5 8,5.2 9,5 10,4.9 11,4.8 12,4.6 13,4.5 14,4.3 15,4.3 16,4.2 17,4.1 18,4 19,3.9 20,3.8"/>
<path fill="none" stroke="#e8a040" stroke-width="5" stroke-linecap="round" d="M1 3.7h0M2 3.5h0M3 4h0M4 4.2h0M5 4.6h0M6 4.8h0M7 5h0M8 5.2h0M9 5h0M10 4.9h0M11 4.8h0M12 4.6h0M13 4.5h0M14 4.3h0M15 4.3h0M16 4.2h0M17 4.1h0M18 4h0M19 3.9h0M20 3.8h0"/>
<polyline fill="none" stroke="#f0922c" stroke-width="1.4" points="1,3.8 2,3.6 3,4.1 4,4.3 5,4.7 6,4.9 7,5.2 8,5.4 9,5.2 10,5.1 11,5 12,4.7 13,4.6 14,4.4 15,4.4 16,4.3 17,4.2 18,4.1 19,3.9 20,3.9"/>
<path fill="none" stroke="#f0922c" stroke-width="6" stroke-linecap="square" d="M1 3.8h0M2 3.6h0M3 4.1h0M4 4.3h0M5 4.7h0M6 4.9h0M7 5.2h0M8 5.4h0M9 5.2h0M10 5.1h0M11 5h0M12 4.7h0M13 4.6h0M14 4.4h0M15 4.4h0M16 4.3h0M17 4.2h0M18 4.1h0M19 3.9h0M20 3.9h0"/>
<polyline fill="none" stroke="#a8a8a8" stroke-width="1.4" points="1,3.6 2,3.3 3,3.6 4,3.5 5,4.2 6,4.6 7,4.8 8,4.8 9,4.6 10,4.4 11,4.4 12,4.3 13,4.3 14,4.2 15,4.2 16,4.1 17,4 18,3.9 19,3.9 20,3.8"/>
<path fill="none" stroke="#a8a8a8" stroke-width="8" stroke-linecap="round" d="M1 3.6h0M2 3.3h0M3 3.6h0M4 3.5h0M5 4.2h0M6 4.6h0M7 4.8h0M8 4.8h0M9 4.6h0M10 4.4h0M11 4.4h0M12 4.3h0M13 4.3h0M14 4.2h0M15 4.2h0M16 4.1h0M17 4h0M18 3.9h0M19 3.9h0M20 3.8h0"/>
<polyline fill="none" stroke="#9b30d0" stroke-width="1.4" points="1,3.4 2,3.3 3,3.4 4,3.9 5,4.3 6,4.3 7,4.5 8,4.7 9,4.6 10,4.2 11,4.1 12,3.9 13,3.8 14,3.7 15,3.6 16,3.5 17,3.5 18,3.4 19,3.4 20,3.3"/>
<path fill="none" stroke="#9b30d0" stroke-width="5" stroke-linecap="round" d="M1 3.4h0M2 3.3h0M3 3.4h0M4 3.9h0M5 4.3h0M6 4.3h0M7 4.5h0M8 4.7h0M9 4.6h0M10 4.2h0M11 4.1h0M12 3.9h0M13 3.8h0M14 3.7h0M15 3.6h0M16 3.5h0M17 3.5h0M18 3.4h0M19 3.4h0M20 3.3h0"/>
<polyline fill="none" stroke="#a040c8" stroke-width="1.4" points="1,3.3 2,3.2 3,3.3 4,3.6 5,3.8 6,4 7,4.4 8,4.5 9,4.4 10,4.2 11,4 12,3.9 13,3.8 14,3.6 15,3.5 16,3.5 17,3.4 18,3.4 19,3.3 20,3.2"/>
<path fill="none" stroke="#a040c8" stroke-width="5" stroke-linecap="round" d="M1 3.3h0M2 3.2h0M3 3.3h0M4 3.6h0M5 3.8h0M6 4h0M7 4.4h0M8 4.5h0M9 4.4h0M10 4.2h0M11 4h0M12 3.9h0M13 3.8h0M14 3.6h0M15 3.5h0M16 3.5h0M17 3.4h0M18 3.4h0M19 3.3h0M20 3.2h0"/>
<g transform="translate(0,-0.3)"><path fill="none" stroke="#9b30d0" stroke-width="1" d="M1 3.3v.6M2 3.2v.6M3 3.3v.6M4 3.6v.6M5 3.8v.6M6 4v.6M7 4.4v.6M8 4.5v.6M9 4.4v.6M10 4.2v.6M11 4v.6M12 3.9v.6M13 3.8v.6M14 3.6v.6M15 3.5v.6M16 3.5v.6M17 3.4v.6M18 3.4v.6M19 3.3v.6M20 3.2v.6"/></g>
<polyline fill="none" stroke="#2c3ab0" stroke-width="1.5" points="1,3.1 2,3.1 3,3.4 4,4.2 5,5.4 6,6.5 7,7 8,7.1 9,6.9 10,6.8 11,6.6 12,6.4 13,6.1 14,6 15,5.8 16,5.7 17,5.7 18,5.6 19,5.5 20,5.4"/>
<path fill="none" stroke="#2c3ab0" stroke-width="6" stroke-linecap="round" d="M1 3.1h0M2 3.1h0M3 3.4h0M4 4.2h0M5 5.4h0M6 6.5h0M7 7h0M8 7.1h0M9 6.9h0M10 6.8h0M11 6.6h0M12 6.4h0M13 6.1h0M14 6h0M15 5.8h0M16 5.7h0M17 5.7h0M18 5.6h0M19 5.5h0M20 5.4h0"/>
<g transform="translate(0,-0.4)"><path fill="none" stroke="#2c3ab0" stroke-width="1.2" d="M1 3.1v.8M2 3.1v.8M3 3.4v.8M4 4.2v.8M5 5.4v.8M6 6.5v.8M7 7v.8M8 7.1v.8M9 6.9v.8M10 6.8v.8M11 6.6v.8M12 6.4v.8M13 6.1v.8M14 6v.8M15 5.8v.8M16 5.7v.8M17 5.7v.8M18 5.6v.8M19 5.5v.8M20 5.4v.8"/></g>
<polyline fill="none" stroke="#1f2fd8" stroke-width="1.5" points="1,3.3 2,3.2 3,3.5 4,4.6 5,5.6 6,6.5 7,7.2 8,7.4 9,7.4 10,7.2 11,7 12,6.7 13,6.3 14,6.2 15,6 16,5.9 17,5.9 18,5.8 19,5.7 20,5.6"/>
<path fill="none" stroke="#1f2fd8" stroke-width="6" stroke-linecap="round" d="M1 3.3h0M2 3.2h0M3 3.5h0M4 4.6h0M5 5.6h0M6 6.5h0M7 7.2h0M8 7.4h0M9 7.4h0M10 7.2h0M11 7h0M12 6.7h0M13 6.3h0M14 6.2h0M15 6h0M16 5.9h0M17 5.9h0M18 5.8h0M19 5.7h0M20 5.6h0"/>
<g transform="translate(0,-0.4)"><path fill="none" stroke="#1f2fd8" stroke-width="1.2" d="M1 3.3v.8M2 3.2v.8M3 3.5v.8M4 4.6v.8M5 5.6v.8M6 6.5v.8M7 7.2v.8M8 7.4v.8M9 7.4v.8M10 7.2v.8M11 7v.8M12 6.7v.8M13 6.3v.8M14 6.2v.8M15 6v.8M16 5.9v.8M17 5.9v.8M18 5.8v.8M19 5.7v.8M20 5.6v.8"/></g>
<polyline fill="none" stroke="#000" stroke-width="1.5" points="1,3.6 2,3.3 3,3.8 4,5.4 5,6.5 6,7.9 7,9.1 8,10.1 9,9.9 10,9.4 11,9 12,8.6 13,8.1 14,7.6 15,7.3 16,7.1 17,7.1 18,7 19,6.9 20,6.8"/>
<path fill="none" stroke="#000" stroke-width="9" stroke-linecap="round" d="M1 3.6h0M2 3.3h0M3 3.8h0M4 5.4h0M5 6.5h0M6 7.9h0M7 9.1h0M8 10.1h0M9 9.9h0M10 9.4h0M11 9h0M12 8.6h0M13 8.1h0M14 7.6h0M15 7.3h0M16 7.1h0M17 7.1h0M18 7h0M19 6.9h0M20 6.8h0"/>
<g transform="translate(0,-0.5)"><path fill="none" stroke="#000" stroke-width="1.3" d="M1 3.6v1M2 3.3v1M3 3.8v1M4 5.4v1M5 6.5v1M6 7.9v1M7 9.1v1M8 10.1v1M9 9.9v1M10 9.4v1M11 9v1M12 8.6v1M13 8.1v1M14 7.6v1M15 7.3v1M16 7.1v1M17 7.1v1M18 7v1M19 6.9v1M20 6.8v1"/></g>
<polyline fill="none" stroke="#d02424" stroke-width="1.5" points="1,3.7 2,3.7 3,5.3 4,7.3 5,9.1 6,11.4 7,12.9 8,13.7 9,13.4 10,12.9 11,12.1 12,11.5 13,10.6 14,9.8 15,9.2 16,8.9 17,8.5 18,8.3 19,8 20,8"/>
<path fill="none" stroke="#d02424" stroke-width="7" stroke-linecap="round" d="M1 3.7h0M2 3.7h0M3 5.3h0M4 7.3h0M5 9.1h0M6 11.4h0M7 12.9h0M8 13.7h0M9 13.4h0M10 12.9h0M11 12.1h0M12 11.5h0M13 10.6h0M14 9.8h0M15 9.2h0M16 8.9h0M17 8.5h0M18 8.3h0M19 8h0M20 8h0"/>
<g transform="translate(0,-0.5)"><path fill="none" stroke="#d02424" stroke-width="1.3" d="M1 3.7v1M2 3.7v1M3 5.3v1M4 7.3v1M5 9.1v1M6 11.4v1M7 12.9v1M8 13.7v1M9 13.4v1M10 12.9v1M11 12.1v1M12 11.5v1M13 10.6v1M14 9.8v1M15 9.2v1M16 8.9v1M17 8.5v1M18 8.3v1M19 8v1M20 8v1"/></g>
<polyline fill="none" stroke="#e41e1e" stroke-width="1.5" points="1,3.7 2,3.8 3,5.7 4,7.8 5,10.2 6,12.5 7,14.1 8,15.2 9,14.4 10,13.6 11,12.6 12,12 13,11.2 14,10.6 15,9.7 16,9.2 17,8.9 18,8.7 19,8.5 20,8.4"/>
<path fill="none" stroke="#e41e1e" stroke-width="7" stroke-linecap="square" d="M1 3.7h0M2 3.8h0M3 5.7h0M4 7.8h0M5 10.2h0M6 12.5h0M7 14.1h0M8 15.2h0M9 14.4h0M10 13.6h0M11 12.6h0M12 12h0M13 11.2h0M14 10.6h0M15 9.7h0M16 9.2h0M17 8.9h0M18 8.7h0M19 8.5h0M20 8.4h0"/>
<g transform="translate(0,-0.65)"><path fill="none" stroke="#e41e1e" stroke-width="1.3" d="M1 3.7v1.3M2 3.8v1.3M3 5.7v1.3M4 7.8v1.3M5 10.2v1.3M6 12.5v1.3M7 14.1v1.3M8 15.2v1.3M9 14.4v1.3M10 13.6v1.3M11 12.6v1.3M12 12v1.3M13 11.2v1.3M14 10.6v1.3M15 9.7v1.3M16 9.2v1.3M17 8.9v1.3M18 8.7v1.3M19 8.5v1.3M20 8.4v1.3"/></g>
</g>
<!-- legend 1 -->
<g stroke-width="1.5">
<path d="M1623 898H1649" stroke="#000"/><circle cx="1636" cy="898" r="4" fill="#000"/>
<path d="M1623 921H1649" stroke="#1f2fd8"/><path d="M1636 917l4 7h-8z" fill="#1f2fd8"/>
<path d="M1623 944H1649" stroke="#2c3ab0"/><path d="M1632 941h8l-4 7z" fill="#2c3ab0"/>
<path d="M1623 967H1649" stroke="#e41e1e"/><rect x="1632.5" y="963.5" width="7" height="7" fill="#e41e1e"/>
<path d="M1623 990H1649" stroke="#d02424"/><path d="M1636 985.5l4.5 4.5-4.5 4.5-4.5-4.5z" fill="#d02424"/>
<path d="M1623 1013H1649" stroke="#a8a8a8"/><circle cx="1636" cy="1013" r="4" fill="#a8a8a8"/>
<path d="M1623 1035H1649" stroke="#9b30d0"/><path d="M1636 1031l4 7h-8z" fill="#9b30d0"/>
<path d="M1623 1058H1649" stroke="#a040c8"/><path d="M1632 1055h8l-4 7z" fill="#a040c8"/>
<path d="M1623 1081H1649" stroke="#f0922c"/><rect x="1633" y="1078" width="6" height="6" fill="#f0922c"/>
<path d="M1623 1104H1649" stroke="#e8a040"/><path d="M1636 1100.5l3.5 3.5-3.5 3.5-3.5-3.5z" fill="#e8a040"/>
</g>
<text class="lg" x="1653" y="904">HHZ-Chitin</text>
<text class="lg" x="1653" y="927"><tspan class="it">OsSHH5</tspan>-OE1-Chitin</text>
<text class="lg" x="1653" y="950"><tspan class="it">OsSHH5</tspan>-OE2-Chitin</text>
<text class="lg" x="1653" y="973"><tspan class="it">OsSHH5</tspan>-KO1-Chitin</text>
<text class="lg" x="1653" y="996"><tspan class="it">OsSHH5</tspan>-KO2-Chitin</text>
<text class="lg" x="1653" y="1019">HHZ-H<tspan dy="5" font-size="12">2</tspan><tspan dy="-5">O</tspan></text>
<text class="lg" x="1653" y="1041"><tspan class="it">OsSHH5</tspan>-OE1-H<tspan dy="5" font-size="12">2</tspan><tspan dy="-5">O</tspan></text>
<text class="lg" x="1653" y="1064"><tspan class="it">OsSHH5</tspan>-OE2-H<tspan dy="5" font-size="12">2</tspan><tspan dy="-5">O</tspan></text>
<text class="lg" x="1653" y="1087"><tspan class="it">OsSHH5</tspan>-KO1-H<tspan dy="5" font-size="12">2</tspan><tspan dy="-5">O</tspan></text>
<text class="lg" x="1653" y="1110"><tspan class="it">OsSHH5</tspan>-KO2-H<tspan dy="5" font-size="12">2</tspan><tspan dy="-5">O</tspan></text>

<!-- ================= I chart 2 ================= -->
<path class="ax" d="M1199 1255V1522H1627M1193 1522H1199M1193 1455.75H1199M1193 1389.5H1199M1193 1323.25H1199M1193 1257H1199M1209 1522v12M1230.4 1522v12M1251.8 1522v12M1273.3 1522v12M1294.7 1522v12M1316.1 1522v12M1337.5 1522v12M1358.9 1522v12M1380.4 1522v12M1401.8 1522v12M1423.2 1522v12M1444.6 1522v12M1466 1522v12M1487.5 1522v12M1508.9 1522v12M1530.3 1522v12M1551.7 1522v12M1573.1 1522v12M1594.6 1522v12M1616 1522v12"/>
<text class="tk" x="1192" y="1529">0</text><text class="tk" x="1192" y="1463">4</text><text class="tk" x="1192" y="1397">8</text><text class="tk" x="1192" y="1330">12</text><text class="tk" x="1192" y="1264">16</text>
<g style="font-size:21px;text-anchor:middle"><text x="1294.7" y="1550">5</text><text x="1401.8" y="1550">10</text><text x="1508.9" y="1550">15</text><text x="1616" y="1550">20</text></g>
<text class="yt" style="font-size:20px" x="1407" y="1572">Time (min)</text>
<text class="yt" style="font-size:20.5px" transform="translate(1157,1388) rotate(-90)">Chemiluminescence (×1000)</text>
<g class="sc" transform="translate(1187.58,1522) scale(21.42,-16.5625)">
<polyline fill="none" stroke="#e8a040" stroke-width="1.4" points="1,3.3 2,3.3 3,3.3 4,3.7 5,4.5 6,4.7 7,5 8,4.9 9,4.8 10,4.6 11,4.5 12,4.3 13,4.2 14,4.1 15,4 16,3.9 17,3.8 18,3.7 19,3.6 20,3.6"/>
<path fill="none" stroke="#e8a040" stroke-width="5" stroke-linecap="round" d="M1 3.3h0M2 3.3h0M3 3.3h0M4 3.7h0M5 4.5h0M6 4.7h0M7 5h0M8 4.9h0M9 4.8h0M10 4.6h0M11 4.5h0M12 4.3h0M13 4.2h0M14 4.1h0M15 4h0M16 3.9h0M17 3.8h0M18 3.7h0M19 3.6h0M20 3.6h0"/>
<polyline fill="none" stroke="#f0922c" stroke-width="1.4" points="1,3.4 2,3.4 3,3.4 4,3.8 5,4.6 6,4.8 7,5.1 8,5 9,4.9 10,4.7 11,4.5 12,4.4 13,4.3 14,4.2 15,4.1 16,3.9 17,3.8 18,3.8 19,3.7 20,3.6"/>
<path fill="none" stroke="#f0922c" stroke-width="6" stroke-linecap="square" d="M1 3.4h0M2 3.4h0M3 3.4h0M4 3.8h0M5 4.6h0M6 4.8h0M7 5.1h0M8 5h0M9 4.9h0M10 4.7h0M11 4.5h0M12 4.4h0M13 4.3h0M14 4.2h0M15 4.1h0M16 3.9h0M17 3.8h0M18 3.8h0M19 3.7h0M20 3.6h0"/>
<polyline fill="none" stroke="#a8a8a8" stroke-width="1.4" points="1,3.4 2,3.3 3,3.2 4,3.4 5,4.1 6,4.4 7,4.6 8,4.5 9,4.4 10,4.3 11,4.2 12,4.2 13,4.2 14,4.1 15,4.1 16,3.9 17,3.8 18,3.7 19,3.6 20,3.6"/>
<path fill="none" stroke="#a8a8a8" stroke-width="8" stroke-linecap="round" d="M1 3.4h0M2 3.3h0M3 3.2h0M4 3.4h0M5 4.1h0M6 4.4h0M7 4.6h0M8 4.5h0M9 4.4h0M10 4.3h0M11 4.2h0M12 4.2h0M13 4.2h0M14 4.1h0M15 4.1h0M16 3.9h0M17 3.8h0M18 3.7h0M19 3.6h0M20 3.6h0"/>
<polyline fill="none" stroke="#9b30d0" stroke-width="1.4" points="1,3 2,3 3,3.1 4,3.2 5,3.7 6,4.1 7,4.4 8,4.4 9,4.3 10,4.1 11,4 12,3.8 13,3.8 14,3.6 15,3.5 16,3.4 17,3.4 18,3.4 19,3.3 20,3.3"/>
<path fill="none" stroke="#9b30d0" stroke-width="5" stroke-linecap="round" d="M1 3h0M2 3h0M3 3.1h0M4 3.2h0M5 3.7h0M6 4.1h0M7 4.4h0M8 4.4h0M9 4.3h0M10 4.1h0M11 4h0M12 3.8h0M13 3.8h0M14 3.6h0M15 3.5h0M16 3.4h0M17 3.4h0M18 3.4h0M19 3.3h0M20 3.3h0"/>
<polyline fill="none" stroke="#a040c8" stroke-width="1.4" points="1,2.9 2,2.9 3,3.1 4,3.2 5,3.5 6,3.8 7,4.3 8,4.3 9,4.1 10,4 11,3.9 12,3.7 13,3.6 14,3.5 15,3.4 16,3.4 17,3.3 18,3.3 19,3.2 20,3.2"/>
<path fill="none" stroke="#a040c8" stroke-width="5" stroke-linecap="round" d="M1 2.9h0M2 2.9h0M3 3.1h0M4 3.2h0M5 3.5h0M6 3.8h0M7 4.3h0M8 4.3h0M9 4.1h0M10 4h0M11 3.9h0M12 3.7h0M13 3.6h0M14 3.5h0M15 3.4h0M16 3.4h0M17 3.3h0M18 3.3h0M19 3.2h0M20 3.2h0"/>
<g transform="translate(0,-0.3)"><path fill="none" stroke="#9b30d0" stroke-width="1" d="M1 2.9v.6M2 2.9v.6M3 3.1v.6M4 3.2v.6M5 3.5v.6M6 3.8v.6M7 4.3v.6M8 4.3v.6M9 4.1v.6M10 4v.6M11 3.9v.6M12 3.7v.6M13 3.6v.6M14 3.5v.6M15 3.4v.6M16 3.4v.6M17 3.3v.6M18 3.3v.6M19 3.2v.6M20 3.2v.6"/></g>
<polyline fill="none" stroke="#2c3ab0" stroke-width="1.5" points="1,3.1 2,3.1 3,3.4 4,4.1 5,5 6,6.1 7,7 8,6.9 9,6.8 10,6.6 11,6.5 12,6.3 13,6.2 14,5.9 15,5.7 16,5.7 17,5.5 18,5.4 19,5.3 20,5.2"/>
<path fill="none" stroke="#2c3ab0" stroke-width="6" stroke-linecap="round" d="M1 3.1h0M2 3.1h0M3 3.4h0M4 4.1h0M5 5h0M6 6.1h0M7 7h0M8 6.9h0M9 6.8h0M10 6.6h0M11 6.5h0M12 6.3h0M13 6.2h0M14 5.9h0M15 5.7h0M16 5.7h0M17 5.5h0M18 5.4h0M19 5.3h0M20 5.2h0"/>
<g transform="translate(0,-0.4)"><path fill="none" stroke="#2c3ab0" stroke-width="1.2" d="M1 3.1v.8M2 3.1v.8M3 3.4v.8M4 4.1v.8M5 5v.8M6 6.1v.8M7 7v.8M8 6.9v.8M9 6.8v.8M10 6.6v.8M11 6.5v.8M12 6.3v.8M13 6.2v.8M14 5.9v.8M15 5.7v.8M16 5.7v.8M17 5.5v.8M18 5.4v.8M19 5.3v.8M20 5.2v.8"/></g>
<polyline fill="none" stroke="#1f2fd8" stroke-width="1.5" points="1,3.2 2,3.2 3,3.4 4,4.3 5,5.6 6,6.4 7,7.3 8,7.2 9,7 10,6.8 11,6.6 12,6.4 13,6.3 14,6 15,5.9 16,5.8 17,5.6 18,5.5 19,5.5 20,5.4"/>
<path fill="none" stroke="#1f2fd8" stroke-width="6" stroke-linecap="round" d="M1 3.2h0M2 3.2h0M3 3.4h0M4 4.3h0M5 5.6h0M6 6.4h0M7 7.3h0M8 7.2h0M9 7h0M10 6.8h0M11 6.6h0M12 6.4h0M13 6.3h0M14 6h0M15 5.9h0M16 5.8h0M17 5.6h0M18 5.5h0M19 5.5h0M20 5.4h0"/>
<g transform="translate(0,-0.4)"><path fill="none" stroke="#1f2fd8" stroke-width="1.2" d="M1 3.2v.8M2 3.2v.8M3 3.4v.8M4 4.3v.8M5 5.6v.8M6 6.4v.8M7 7.3v.8M8 7.2v.8M9 7v.8M10 6.8v.8M11 6.6v.8M12 6.4v.8M13 6.3v.8M14 6v.8M15 5.9v.8M16 5.8v.8M17 5.6v.8M18 5.5v.8M19 5.5v.8M20 5.4v.8"/></g>
<polyline fill="none" stroke="#000" stroke-width="1.5" points="1,3.5 2,3.4 3,3.6 4,5 5,6.4 6,8 7,9.1 8,9 9,8.8 10,8.6 11,8.4 12,8.1 13,7.9 14,7.4 15,7.2 16,7 17,6.8 18,6.7 19,6.5 20,6.4"/>
<path fill="none" stroke="#000" stroke-width="9" stroke-linecap="round" d="M1 3.5h0M2 3.4h0M3 3.6h0M4 5h0M5 6.4h0M6 8h0M7 9.1h0M8 9h0M9 8.8h0M10 8.6h0M11 8.4h0M12 8.1h0M13 7.9h0M14 7.4h0M15 7.2h0M16 7h0M17 6.8h0M18 6.7h0M19 6.5h0M20 6.4h0"/>
<g transform="translate(0,-0.45)"><path fill="none" stroke="#000" stroke-width="1.3" d="M1 3.5v.9M2 3.4v.9M3 3.6v.9M4 5v.9M5 6.4v.9M6 8v.9M7 9.1v.9M8 9v.9M9 8.8v.9M10 8.6v.9M11 8.4v.9M12 8.1v.9M13 7.9v.9M14 7.4v.9M15 7.2v.9M16 7v.9M17 6.8v.9M18 6.7v.9M19 6.5v.9M20 6.4v.9"/></g>
<polyline fill="none" stroke="#d02424" stroke-width="1.5" points="1,3.6 2,3.5 3,5.4 4,6.9 5,9 6,11.1 7,12.4 8,12.2 9,11.8 10,11 11,10.5 12,10.1 13,10 14,9.7 15,9.4 16,9.2 17,8.8 18,8.4 19,8.2 20,8"/>
<path fill="none" stroke="#d02424" stroke-width="7" stroke-linecap="round" d="M1 3.6h0M2 3.5h0M3 5.4h0M4 6.9h0M5 9h0M6 11.1h0M7 12.4h0M8 12.2h0M9 11.8h0M10 11h0M11 10.5h0M12 10.1h0M13 10h0M14 9.7h0M15 9.4h0M16 9.2h0M17 8.8h0M18 8.4h0M19 8.2h0M20 8h0"/>
<g transform="translate(0,-0.55)"><path fill="none" stroke="#d02424" stroke-width="1.3" d="M1 3.6v1.1M2 3.5v1.1M3 5.4v1.1M4 6.9v1.1M5 9v1.1M6 11.1v1.1M7 12.4v1.1M8 12.2v1.1M9 11.8v1.1M10 11v1.1M11 10.5v1.1M12 10.1v1.1M13 10v1.1M14 9.7v1.1M15 9.4v1.1M16 9.2v1.1M17 8.8v1.1M18 8.4v1.1M19 8.2v1.1M20 8v1.1"/></g>
<polyline fill="none" stroke="#e41e1e" stroke-width="1.5" points="1,3.6 2,3.5 3,4.9 4,7.1 5,10.4 6,12.6 7,13.3 8,13.1 9,12.4 10,11.8 11,11.1 12,10.8 13,10.6 14,10.2 15,9.6 16,9.2 17,8.9 18,8.8 19,8.6 20,8.5"/>
<path fill="none" stroke="#e41e1e" stroke-width="7" stroke-linecap="square" d="M1 3.6h0M2 3.5h0M3 4.9h0M4 7.1h0M5 10.4h0M6 12.6h0M7 13.3h0M8 13.1h0M9 12.4h0M10 11.8h0M11 11.1h0M12 10.8h0M13 10.6h0M14 10.2h0M15 9.6h0M16 9.2h0M17 8.9h0M18 8.8h0M19 8.6h0M20 8.5h0"/>
<g transform="translate(0,-0.65)"><path fill="none" stroke="#e41e1e" stroke-width="1.3" d="M1 3.6v1.3M2 3.5v1.3M3 4.9v1.3M4 7.1v1.3M5 10.4v1.3M6 12.6v1.3M7 13.3v1.3M8 13.1v1.3M9 12.4v1.3M10 11.8v1.3M11 11.1v1.3M12 10.8v1.3M13 10.6v1.3M14 10.2v1.3M15 9.6v1.3M16 9.2v1.3M17 8.9v1.3M18 8.8v1.3M19 8.6v1.3M20 8.5v1.3"/></g>
</g>
<!-- legend 2 -->
<g stroke-width="1.5">
<path d="M1623 1255H1649" stroke="#000"/><circle cx="1636" cy="1255" r="4" fill="#000"/>
<path d="M1623 1278H1649" stroke="#1f2fd8"/><path d="M1636 1274l4 7h-8z" fill="#1f2fd8"/>
<path d="M1623 1301H1649" stroke="#2c3ab0"/><path d="M1632 1298h8l-4 7z" fill="#2c3ab0"/>
<path d="M1623 1324H1649" stroke="#e41e1e"/><rect x="1632.5" y="1320.5" width="7" height="7" fill="#e41e1e"/>
<path d="M1623 1347H1649" stroke="#d02424"/><path d="M1636 1342.5l4.5 4.5-4.5 4.5-4.5-4.5z" fill="#d02424"/>
<path d="M1623 1370H1649" stroke="#a8a8a8"/><circle cx="1636" cy="1370" r="4" fill="#a8a8a8"/>
<path d="M1623 1392H1649" stroke="#9b30d0"/><path d="M1636 1388l4 7h-8z" fill="#9b30d0"/>
<path d="M1623 1415H1649" stroke="#a040c8"/><path d="M1632 1412h8l-4 7z" fill="#a040c8"/>
<path d="M1623 1438H1649" stroke="#f0922c"/><rect x="1633" y="1435" width="6" height="6" fill="#f0922c"/>
<path d="M1623 1461H1649" stroke="#e8a040"/><path d="M1636 1457.5l3.5 3.5-3.5 3.5-3.5-3.5z" fill="#e8a040"/>
</g>
<text class="lg" x="1653" y="1261">HHZ-flg22</text>
<text class="lg" x="1653" y="1284"><tspan class="it">OsSHH5</tspan>-OE1-flg22</text>
<text class="lg" x="1653" y="1307"><tspan class="it">OsSHH5</tspan>-OE2-flg22</text>
<text class="lg" x="1653" y="1330"><tspan class="it">OsSHH5</tspan>-KO1-flg22</text>
<text class="lg" x="1653" y="1353"><tspan class="it">OsSHH5</tspan>-KO2-flg22</text>
<text class="lg" x="1653" y="1376">HHZ-H<tspan dy="5" font-size="12">2</tspan><tspan dy="-5">O</tspan></text>
<text class="lg" x="1653" y="1398"><tspan class="it">OsSHH5</tspan>-OE1-H<tspan dy="5" font-size="12">2</tspan><tspan dy="-5">O</tspan></text>
<text class="lg" x="1653" y="1421"><tspan class="it">OsSHH5</tspan>-OE2-H<tspan dy="5" font-size="12">2</tspan><tspan dy="-5">O</tspan></text>
<text class="lg" x="1653" y="1444"><tspan class="it">OsSHH5</tspan>-KO1-H<tspan dy="5" font-size="12">2</tspan><tspan dy="-5">O</tspan></text>
<text class="lg" x="1653" y="1467"><tspan class="it">OsSHH5</tspan>-KO2-H<tspan dy="5" font-size="12">2</tspan><tspan dy="-5">O</tspan></text>
</svg>
</body></html>
